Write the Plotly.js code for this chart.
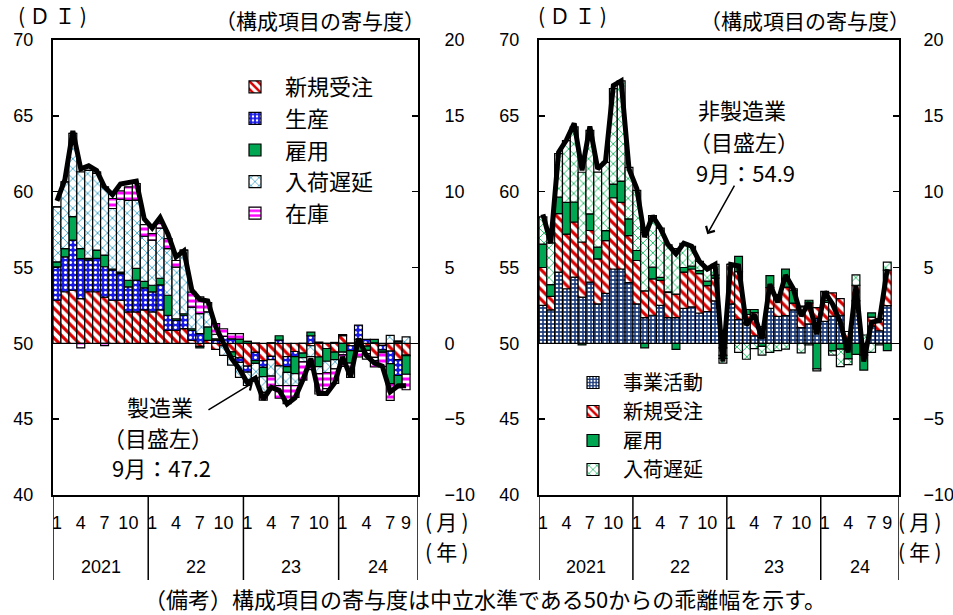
<!DOCTYPE html>
<html><head><meta charset="utf-8">
<script src="https://cdn.plot.ly/plotly-3.0.1.min.js"></script>
<style>html,body{margin:0;padding:0;background:#fff}#chart{width:953px;height:615px}</style>
</head><body><div id="chart"></div>
<script>
// ---- data (index 0 = 2021年1月 ... 44 = 2024年9月) ----
const monthIdx = Array.from({length: 45}, (_, i) => i);
const tickPos  = [0,3,6,9, 12,15,18,21, 24,27,30,33, 36,39,42,44];
const tickText = ['1','4','7','10','1','4','7','10','1','4','7','10','1','4','7','9'];
const years     = ['2021','22','23','24'];
const yearStart = [0,12,24,36];
const yearEnd   = [11,23,35,44];

// 製造業 ISM (DI)
const mfgDI = [59.4,60.8,64.0,61.5,61.7,61.4,60.3,59.8,60.5,60.6,60.7,58.2,
               57.6,58.3,57.2,55.7,56.1,53.5,52.9,52.8,51.1,50.0,49.0,48.3,
               47.4,47.7,46.3,47.1,46.9,46.0,46.4,47.6,49.0,46.7,46.7,47.4,
               49.1,47.8,50.3,49.2,48.7,48.5,46.8,47.2,47.2];
const mfgNewOrders = [2.84,3.4,3.5,2.95,3.4,3.4,3.05,2.84,2.84,2.07,2.07,2.2,
               2.07,2.2,0.86,0.86,0.97,0.2,-0.2,0.2,-0.4,-0.16,-0.56,-0.96,
               -1.5,-0.6,-1.14,-0.86,-1.48,-0.88,-0.54,-0.64,-0.16,-0.9,-0.34,-0.58,
               0.5,-0.16,0.28,-0.18,-0.92,-0.14,-0.52,-1.08,-0.78];
const mfgProduction = [2.2,2.3,3.3,2.64,2.1,2.2,2.0,2.0,1.76,1.65,2.1,1.45,
               1.32,1.65,0.99,0.66,0.88,0.66,0.64,0.0,0.2,0.46,0.3,-0.3,
               -0.4,-0.54,-0.44,-0.22,0.22,-0.66,-0.34,0.0,0.5,0.08,0.0,0.06,
               0.08,-0.32,0.92,0.26,0.04,-0.3,-0.82,-1.04,-0.04];
const mfgEmployment = [0.33,0.55,1.55,0.66,0.1,0.55,0.77,0.05,0.1,0.44,0.77,0.44,
               0.44,0.44,1.32,0.1,0.1,0.1,-0.1,0.88,0.1,0.0,-0.32,0.28,
               0.12,-0.18,-0.62,0.04,0.28,-0.38,-1.12,-0.3,0.24,-0.64,-0.84,-0.5,
               -0.58,-0.82,-0.52,-0.28,0.22,-0.14,-1.32,-0.8,-1.22];
const mfgDeliveries = [3.63,4.4,5.5,5.05,5.8,5.05,4.5,4.0,4.8,5.27,4.5,2.97,
               2.97,3.3,3.08,3.4,4.2,1.43,1.32,1.0,0.3,-0.64,-0.56,-0.98,
               -0.88,-0.96,-1.04,-1.08,-1.3,-0.86,-0.78,-0.28,-0.72,-0.46,-0.76,-0.6,
               -0.18,0.02,-0.02,-0.22,-0.22,-0.04,0.52,0.1,0.42];
const mfgInventories = [0.0,0.0,0.0,-0.3,0.0,0.1,-0.15,0.66,0.55,0.88,1.1,0.77,
               0.44,0.33,0.66,0.44,0.0,0.99,1.1,0.6,0.7,0.5,0.34,0.36,
               0.02,0.02,-0.5,-0.74,-0.84,-1.2,-0.78,-1.2,-0.86,-1.34,-1.04,-0.96,
               -0.76,-0.94,-0.36,-0.36,-0.42,-0.92,-1.1,0.06,-1.02];

// 非製造業 ISM (DI)
const nonDI = [58.5,56.6,62.6,63.4,64.5,61.4,64.3,61.5,62.0,67.0,67.3,61.5,
               60.2,57.0,58.4,57.6,56.5,55.9,56.6,56.4,55.4,54.9,55.2,48.8,
               55.2,55.1,51.2,51.9,50.3,53.9,52.7,54.5,53.6,51.8,52.7,50.6,
               53.4,52.6,51.4,49.4,53.8,48.8,51.4,51.5,54.9];
const nonActivity = [2.5,2.2,4.7,3.6,4.37,3.05,4.04,2.6,3.3,4.9,4.9,4.0,
               2.6,1.7,1.85,2.5,1.7,1.7,2.3,2.4,2.0,2.1,2.8,-0.3,
               2.6,1.58,1.35,0.5,0.38,2.3,1.78,1.83,2.2,1.03,1.28,1.65,
               1.45,1.8,1.85,0.23,2.8,-0.1,1.13,0.83,2.48];
const nonNewOrders = [2.5,0.9,3.85,3.6,3.63,3.63,3.4,2.97,3.47,4.7,4.4,3.1,
               2.86,1.76,2.4,1.65,1.65,1.55,2.4,2.5,2.6,1.7,1.5,-0.5,
               2.6,3.15,0.55,1.53,0.73,1.38,1.25,1.88,0.45,1.38,1.38,0.7,
               1.25,1.53,1.1,0.55,1.03,-0.68,0.6,0.75,2.35];
const nonEmployment = [1.54,0.77,1.1,2.1,1.32,-0.1,1.1,0.77,0.66,0.9,1.4,1.1,
               0.66,-0.3,0.77,0.2,0.05,-0.4,0.3,0.2,0.2,0.3,0.2,-0.2,
               0.0,1.0,0.33,0.2,-0.2,0.78,0.18,1.18,0.85,0.05,0.18,-1.68,
               0.13,-0.5,-0.38,-1.03,-0.73,-0.98,0.28,0.05,-0.48];
const nonDeliveries = [1.8,2.75,2.86,4.07,4.95,4.6,5.5,4.95,4.5,6.3,6.6,3.4,
               3.96,3.84,3.4,3.25,3.1,3.0,1.6,1.3,0.6,0.8,0.7,-0.3,
               0.0,-0.6,-1.05,-0.35,-0.58,-0.6,-0.48,-0.38,0.1,-0.63,-0.1,-0.13,
               0.6,-0.28,-1.15,-0.38,0.68,0.55,-0.6,-0.1,0.53];

// ---- styles ----
const JP  = "'Noto Sans CJK JP', 'Noto Sans', sans-serif";
const NUM = "'Liberation Sans', Arial, sans-serif";
const W = 953, H = 615, T = 40, B = 120;
const PH = H - T - B;
const px = v => v / W;
const py = v => (H - B - v) / PH;

const OUT = {color: '#000', width: 1.2};
const sty = {
  redStripe: {color: '#ffffff', line: OUT, pattern: {shape: '\\', fgcolor: '#D80000', bgcolor: '#ffffff', size: 7, solidity: 0.45}},
  blueDot:   {color: '#1a1ae6', line: OUT, pattern: {shape: '.', fgcolor: '#ffffff', bgcolor: '#1a1ae6', size: 5, solidity: 0.3}},
  green:     {color: '#00A651', line: OUT},
  cyanWave:  {color: '#ffffff', line: OUT, pattern: {shape: 'x', fgcolor: '#3FA7CC', bgcolor: '#ffffff', size: 7, solidity: 0.25}},
  magenta:   {color: '#ffffff', line: OUT, pattern: {shape: '-', fgcolor: '#FF00FF', bgcolor: '#ffffff', size: 6, solidity: 0.5}},
  navyDot:   {color: '#1F3D7A', line: OUT, pattern: {shape: '.', fgcolor: '#ffffff', bgcolor: '#1F3D7A', size: 4, solidity: 0.35}},
  greenWave: {color: '#ffffff', line: OUT, pattern: {shape: 'x', fgcolor: '#00B050', bgcolor: '#ffffff', size: 7, solidity: 0.22}}
};

function bar(name, y, marker, xa, ya, lg) {
  return {type: 'bar', name: name, x: monthIdx, y: y, marker: marker,
          xaxis: xa, yaxis: ya, legend: lg, hoverinfo: 'skip'};
}
const traces = [
  bar('新規受注', mfgNewOrders, sty.redStripe, 'x', 'y', 'legend'),
  bar('生産', mfgProduction, sty.blueDot, 'x', 'y', 'legend'),
  bar('雇用', mfgEmployment, sty.green, 'x', 'y', 'legend'),
  bar('入荷遅延', mfgDeliveries, sty.cyanWave, 'x', 'y', 'legend'),
  bar('在庫', mfgInventories, sty.magenta, 'x', 'y', 'legend'),
  {type: 'scatter', mode: 'lines', x: monthIdx, y: mfgDI, xaxis: 'x', yaxis: 'y2',
   line: {color: '#000', width: 5}, showlegend: false, hoverinfo: 'skip'},
  bar('事業活動', nonActivity, sty.navyDot, 'x2', 'y3', 'legend2'),
  bar('新規受注', nonNewOrders, sty.redStripe, 'x2', 'y3', 'legend2'),
  bar('雇用', nonEmployment, sty.green, 'x2', 'y3', 'legend2'),
  bar('入荷遅延', nonDeliveries, sty.greenWave, 'x2', 'y3', 'legend2'),
  {type: 'scatter', mode: 'lines', x: monthIdx, y: nonDI, xaxis: 'x2', yaxis: 'y4',
   line: {color: '#000', width: 5}, showlegend: false, hoverinfo: 'skip'}
];

function xAxis(dom, anchor) {
  return {domain: dom, anchor: anchor, range: [-0.5, 45.5], showline: true, mirror: true,
          linecolor: '#000', linewidth: 2, ticks: '', tickvals: tickPos, ticktext: tickText,
          tickangle: 0, tickfont: {family: NUM, size: 18, color: '#000'}, ticklabelstandoff: 10,
          showgrid: false, zeroline: false, fixedrange: true};
}
function yAxis(extra) {
  return Object.assign({dtick: 5, ticks: 'inside', ticklen: 6, tickwidth: 1.5, tickcolor: '#000',
          showline: true, linecolor: '#000', linewidth: 2, showgrid: false,
          tickfont: {family: NUM, size: 18, color: '#000'}, ticklabelstandoff: 14, fixedrange: true}, extra);
}

const ann = [];
function txt(t, x, y, opt) {
  ann.push(Object.assign({text: t, xref: 'paper', yref: 'paper', x: px(x), y: py(y),
    showarrow: false, xanchor: 'center', yanchor: 'middle',
    font: {family: JP, size: 22, color: '#000'}}, opt || {}));
}
const F21 = {font: {family: JP, size: 21, color: '#000'}};
const TS = '\u2009';
// header labels
txt('(' + TS + 'Ｄ' + TS + 'Ｉ' + TS + ')', 52, 15, F21);
txt('（構成項目の寄与度）', 320, 20, F21);
txt('(' + TS + 'Ｄ' + TS + 'Ｉ' + TS + ')', 572, 15, F21);
txt('（構成項目の寄与度）', 805, 20, F21);
// month / year unit labels
const unitM = '(' + TS + '月' + TS + ')', unitY = '(' + TS + '年' + TS + ')';
txt(unitM, 447, 521, F21); txt(unitY, 447, 551, F21);
txt(unitM, 920, 521, F21); txt(unitY, 920, 551, F21);
// year labels
[['x'], ['x2']].forEach(([xr]) => {
  years.forEach((yr, k) => {
    ann.push({text: yr, xref: xr, yref: 'paper', x: (yearStart[k] + yearEnd[k]) / 2 + (k === 3 ? 0.5 : 0),
      y: py(567), showarrow: false, xanchor: 'center', yanchor: 'middle',
      font: {family: NUM, size: 18, color: '#000'}});
  });
});
// series notes
txt('製造業', 160, 406);
txt('（目盛左）', 158, 437);
txt('9月：47.2', 161, 467);
txt('非製造業', 742, 109);
txt('（目盛左）', 744, 141);
txt('9月：54.9', 745, 172);
// arrows
ann.push({text: '', xref: 'x', yref: 'y2', x: mfgDI.length - 20.3, y: 47.4, ax: -46, ay: 28,
  showarrow: true, arrowhead: 4, arrowsize: 1.3, arrowwidth: 1.5, arrowcolor: '#000', standoff: 0});
ann.push({text: '', xref: 'x2', yref: 'y4', x: nonDI.length - 24.0, y: 57.2, ax: 28, ay: -50,
  showarrow: true, arrowhead: 4, arrowsize: 1.3, arrowwidth: 1.5, arrowcolor: '#000', standoff: 0});
// footnote
txt('（備考）構成項目の寄与度は中立水準である50からの乖離幅を示す。', 142, 598,
    {xanchor: 'left', font: {family: JP, size: 22, color: '#000'}});

// year separators below axis
const shapes = [];
[['x'], ['x2']].forEach(([xr]) => {
  [-0.5, 11.5, 23.5, 35.5, 45.5].forEach(v => {
    shapes.push({type: 'line', xref: xr, yref: 'paper', x0: v, x1: v, y0: 0, y1: py(580),
      line: {color: '#000', width: 1.5}});
  });
});

const layout = {
  width: W, height: H, margin: {l: 0, r: 0, t: T, b: B},
  paper_bgcolor: '#fff', plot_bgcolor: '#fff',
  barmode: 'relative', bargap: 0,
  xaxis: xAxis([px(53), px(418)], 'y'),
  xaxis2: xAxis([px(539), px(899)], 'y3'),
  yaxis: yAxis({anchor: 'x', side: 'right', range: [-10, 20], ticklabelstandoff: 21,
                zeroline: true, zerolinecolor: '#000', zerolinewidth: 1.5}),
  yaxis2: yAxis({anchor: 'x', side: 'left', overlaying: 'y', range: [40, 70], zeroline: false}),
  yaxis3: yAxis({anchor: 'x2', side: 'right', range: [-10, 20], ticklabelstandoff: 19,
                zeroline: true, zerolinecolor: '#000', zerolinewidth: 1.5}),
  yaxis4: yAxis({anchor: 'x2', side: 'left', overlaying: 'y3', range: [40, 70], zeroline: false}),
  legend: {x: px(225), y: py(66), xanchor: 'left', yanchor: 'top', traceorder: 'normal', itemwidth: 50,
           bgcolor: 'rgba(0,0,0,0)', font: {family: JP, size: 22, color: '#000'}},
  legend2: {x: px(563), y: py(363), xanchor: 'left', yanchor: 'top', traceorder: 'normal', itemwidth: 50,
           bgcolor: 'rgba(0,0,0,0)', font: {family: JP, size: 20, color: '#000'}},
  annotations: ann,
  shapes: shapes,
  showlegend: true
};

Plotly.newPlot('chart', traces, layout, {displayModeBar: false, staticPlot: true});
</script>
</body></html>
